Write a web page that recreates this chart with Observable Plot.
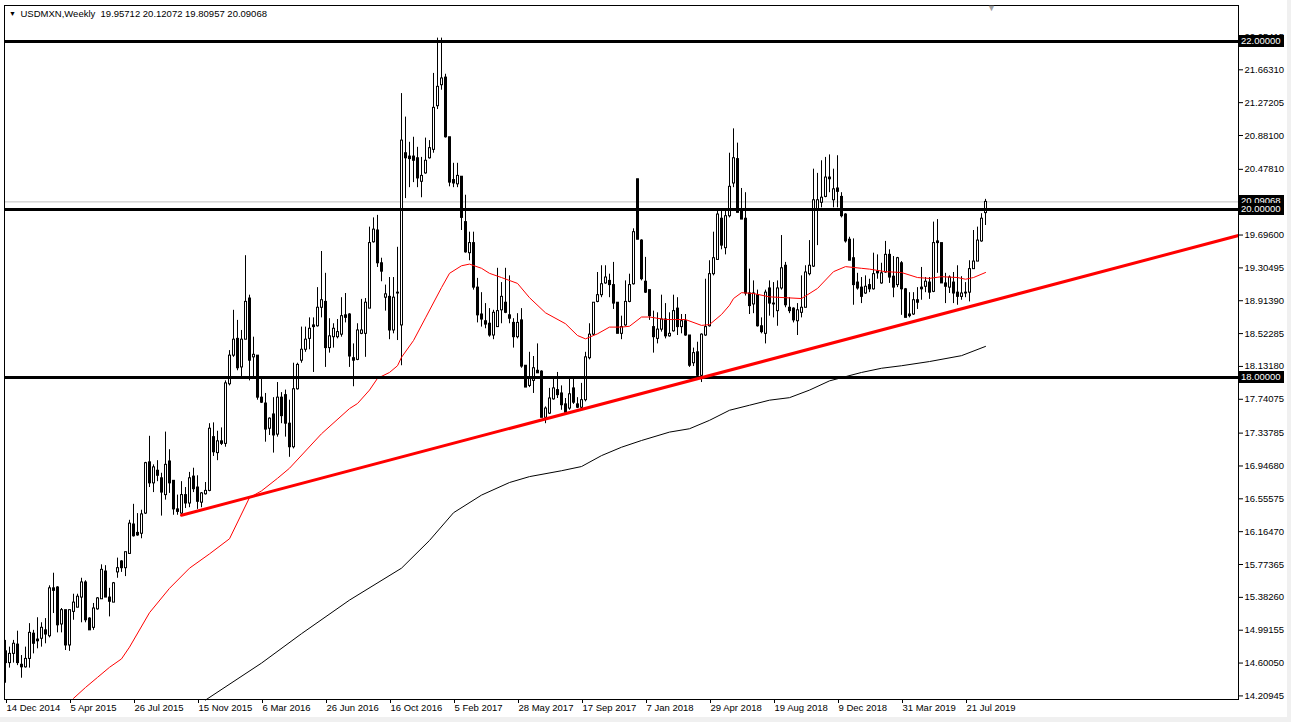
<!DOCTYPE html>
<html><head><meta charset="utf-8">
<script src="https://cdn.jsdelivr.net/npm/d3@7"></script>
<script src="https://cdn.jsdelivr.net/npm/@observablehq/plot@0.6"></script>
<style>
html,body{margin:0;padding:0;background:#f0f0f0;}
#chart{position:absolute;left:0;top:0;}
</style></head><body><div id="chart"></div>
<script>
// ---- data (weekly candles, first week starting 14 Dec 2014) ----
const firstWeek = "2014-12-14";
const symbolHeader = "USDMXN,Weekly  19.95712 20.12072 19.80957 20.09068";

const open = [14.74,14.60,14.71,14.82,14.58,14.55,14.65,14.95,14.86,14.89,14.99,14.92,15.49,15.50,15.06,15.23,14.81,15.21,15.26,15.38,
15.56,15.13,15.02,15.24,15.36,15.69,15.38,15.32,15.68,15.81,15.73,15.90,16.25,16.12,16.14,16.38,16.99,16.74,16.89,16.80,
16.60,17.00,16.77,16.43,16.38,16.60,16.50,16.82,16.69,16.51,16.61,16.65,17.29,17.10,17.24,17.21,17.92,18.26,18.46,18.12,
18.45,18.94,18.24,18.26,17.76,17.69,17.39,17.56,17.32,17.76,17.79,17.45,17.17,17.86,18.20,18.33,18.46,18.60,18.61,18.83,
18.90,18.35,18.48,18.48,18.51,18.71,18.75,18.23,18.21,18.52,18.52,18.82,19.61,19.75,19.36,18.95,18.96,18.56,19.00,18.62,
20.67,20.60,20.63,20.61,20.33,20.43,20.61,20.71,21.23,21.48,21.57,20.86,20.35,20.30,20.39,19.85,19.48,19.60,19.07,18.75,
18.67,18.64,18.50,18.60,18.80,18.89,18.74,18.65,18.48,18.68,18.14,17.90,17.96,18.08,18.07,17.52,17.57,17.74,17.85,17.81,
17.68,17.63,17.87,17.68,17.64,17.73,18.23,18.51,18.90,18.98,19.12,19.15,19.10,18.89,18.52,18.62,18.90,19.11,20.36,19.63,
19.14,19.04,18.60,18.46,18.57,18.69,18.49,18.55,18.82,18.60,18.67,18.50,18.17,18.30,18.02,18.50,18.61,19.23,19.40,19.89,
19.54,19.92,20.31,20.60,19.99,19.89,19.00,18.87,18.98,18.61,18.52,19.06,18.88,18.79,19.06,19.33,18.83,18.82,18.67,18.77,
18.83,19.23,19.32,19.99,20.08,20.15,20.38,20.11,20.25,20.15,19.94,19.64,19.42,19.13,19.07,19.00,19.10,19.05,19.26,19.12,
19.25,19.46,19.20,19.10,19.36,19.05,18.75,18.75,18.92,19.05,19.08,19.13,19.02,19.62,19.60,19.12,19.07,19.13,19.01,18.96,
19.00,19.01,19.29,19.38,19.62,19.95712];

const high = [14.87,14.79,14.87,14.98,14.69,14.79,15.07,14.99,15.14,15.08,15.13,15.52,15.67,15.51,15.25,15.23,15.23,15.42,15.42,15.61,
15.58,15.14,15.31,15.38,15.77,15.76,15.49,15.56,15.85,15.82,15.92,16.30,16.49,16.38,16.42,16.99,17.30,16.96,17.01,16.86,
17.35,17.14,16.77,16.60,16.76,16.69,16.87,16.92,16.83,16.63,16.75,17.45,17.46,17.36,17.40,17.96,18.32,18.80,18.68,18.56,
19.45,18.98,18.48,18.26,17.99,17.81,17.52,17.76,17.94,17.82,17.85,17.73,18.17,18.17,18.60,18.60,18.71,18.71,19.07,19.50,
19.24,18.70,18.64,18.69,18.95,19.00,18.76,18.40,18.64,18.93,18.94,19.79,19.90,19.93,19.42,19.10,19.19,19.19,19.55,21.38,
21.10,20.80,20.86,20.74,20.62,20.85,20.82,21.62,22.04,22.04,21.61,20.86,20.55,20.55,20.39,20.17,19.73,19.73,19.18,19.01,
18.88,18.82,18.80,19.30,19.13,19.30,19.21,18.70,18.76,18.82,18.14,18.30,18.25,18.40,18.08,17.65,17.87,17.98,18.06,17.90,
17.75,17.99,17.99,17.76,17.93,18.30,18.64,18.89,19.25,19.33,19.33,19.23,19.37,18.89,18.73,19.15,19.23,19.77,20.36,19.64,
19.43,19.04,18.79,18.77,18.98,18.88,18.77,18.98,18.95,18.75,18.75,18.50,18.35,18.42,18.52,19.17,19.39,19.73,20.01,20.00,
20.01,20.67,20.96,20.79,20.25,20.20,19.29,19.15,19.04,18.71,19.04,19.15,19.13,19.15,19.69,19.37,18.95,18.83,18.88,19.21,
19.33,19.63,20.48,20.43,20.58,20.62,20.65,20.48,20.64,20.20,19.95,19.67,19.65,19.24,19.19,19.21,19.17,19.48,19.46,19.36,
19.62,19.52,19.44,19.43,19.38,19.06,19.01,19.01,19.07,19.31,19.19,19.19,19.85,19.88,19.60,19.24,19.21,19.25,19.33,19.20,
19.13,19.39,19.75,19.79,19.95,20.12072];

const low = [14.36,14.54,14.60,14.57,14.42,14.54,14.54,14.71,14.77,14.79,14.83,14.90,15.19,14.96,14.96,14.75,14.74,15.11,15.26,15.08,
15.08,14.99,14.99,15.23,15.36,15.38,15.15,15.32,15.61,15.68,15.63,15.90,16.10,16.11,16.08,16.37,16.69,16.63,16.76,16.35,
16.54,16.62,16.36,16.36,16.37,16.44,16.45,16.63,16.43,16.45,16.60,16.64,17.06,17.01,17.19,17.17,17.90,18.24,18.08,18.00,
18.45,17.96,17.99,17.73,17.69,17.23,17.31,17.10,17.29,17.45,17.29,17.05,17.15,17.85,18.17,18.30,18.33,18.06,18.60,18.71,
18.12,18.29,18.35,18.46,18.48,18.65,18.12,17.89,18.20,18.51,18.24,18.82,19.60,19.31,19.14,18.79,18.45,18.52,18.44,18.14,
20.13,20.26,20.32,20.26,20.14,20.42,20.60,20.67,21.19,21.42,20.85,20.27,20.26,20.26,19.75,19.48,19.39,19.04,18.65,18.60,
18.58,18.48,18.45,18.60,18.64,18.76,18.64,18.35,18.46,18.11,17.88,17.88,17.81,18.05,17.52,17.45,17.56,17.73,17.75,17.61,
17.58,17.61,17.68,17.63,17.61,17.71,18.21,18.50,18.89,18.95,19.11,18.95,18.81,18.52,18.45,18.61,18.89,19.10,19.64,19.15,
19.00,18.68,18.29,18.40,18.54,18.46,18.48,18.54,18.50,18.52,18.49,18.12,18.13,18.01,17.94,18.49,18.60,19.21,19.40,19.52,
19.46,19.90,20.26,19.96,19.88,18.97,18.75,18.76,18.60,18.52,18.40,18.73,18.71,18.61,19.04,18.83,18.76,18.65,18.50,18.71,
18.83,19.21,19.31,19.57,20.02,20.14,20.20,20.02,20.02,19.90,19.60,19.39,18.86,19.04,18.88,18.99,19.01,19.04,19.17,19.11,
19.24,19.12,18.95,19.07,18.74,18.71,18.71,18.74,18.81,18.92,19.01,18.93,19.01,19.24,19.12,18.88,19.00,18.88,18.86,18.92,
18.95,18.90,19.29,19.38,19.61,19.80957];

const close = [14.60,14.71,14.83,14.60,14.55,14.65,14.96,14.83,14.88,15.02,14.94,15.49,15.46,15.05,15.23,14.81,15.23,15.32,15.39,15.56,
15.11,14.99,15.25,15.37,15.71,15.38,15.33,15.55,15.73,15.73,15.92,16.26,16.11,16.15,16.37,16.98,16.74,16.93,16.83,16.63,
16.96,16.74,16.43,16.40,16.60,16.50,16.80,16.67,16.52,16.62,16.65,17.39,17.11,17.24,17.21,17.93,18.26,18.45,18.11,18.45,
18.90,18.20,18.27,17.76,17.70,17.38,17.51,17.31,17.76,17.54,17.45,17.17,17.86,18.15,18.33,18.45,18.58,18.62,18.83,18.92,
18.35,18.49,18.58,18.54,18.73,18.74,18.25,18.20,18.56,18.56,18.89,19.60,19.76,19.36,19.26,18.99,18.56,18.95,19.01,20.82,
20.61,20.63,20.58,20.37,20.40,20.58,20.73,21.21,21.46,21.56,20.86,20.32,20.31,20.40,19.90,19.49,19.60,19.07,18.74,18.69,
18.63,18.50,18.77,18.79,18.96,18.77,18.70,18.48,18.65,18.13,17.88,17.99,18.11,18.05,17.52,17.63,17.75,17.87,17.79,17.67,
17.58,17.80,17.70,17.64,17.73,18.24,18.51,18.89,18.98,19.11,19.19,19.10,18.88,18.52,18.60,18.90,19.10,19.73,19.64,19.17,
19.01,18.73,18.48,18.57,18.69,18.49,18.52,18.79,18.60,18.67,18.50,18.14,18.29,18.02,18.51,18.60,19.23,19.42,19.94,19.57,
19.92,20.27,20.61,19.96,19.88,19.00,18.85,19.00,18.61,18.54,19.01,18.88,18.87,19.06,19.30,18.86,18.79,18.68,18.80,18.83,
19.25,19.33,20.11,20.11,20.14,20.38,20.36,20.24,20.21,19.92,19.62,19.39,19.10,19.06,18.96,19.08,19.05,19.23,19.24,19.24,
19.46,19.19,19.07,19.42,19.05,18.71,18.73,18.92,18.89,19.07,19.14,19.01,19.60,19.60,19.12,19.08,19.19,19.00,18.96,19.00,
19.01,19.29,19.38,19.63,19.89,20.09068];

// 50-period moving average (red), read at sample weeks
const ma50Week = [17,20,23,26,29,31,36,41,46,51,56,61,64,68,71,79,86,88,91,93,96,98,99,102,105,109,111,114,116,119,121,124,128,131,135,140,143,145,148,151,154,156,159,161,165,170,174,176,179,181,182,184,187,191,195,199,203,207,210,214,216,220,224,228,231,234,238,240,242,245];
const ma50Value = [14.18,14.31,14.43,14.55,14.65,14.79,15.20,15.49,15.73,15.90,16.08,16.57,16.65,16.80,16.92,17.33,17.63,17.69,17.85,17.99,18.06,18.14,18.24,18.44,18.71,19.07,19.24,19.33,19.35,19.30,19.24,19.19,19.12,18.95,18.77,18.64,18.50,18.46,18.52,18.60,18.60,18.61,18.72,18.72,18.69,18.69,18.62,18.63,18.75,18.86,18.94,19.01,19.00,18.96,18.95,18.94,19.06,19.26,19.32,19.30,19.29,19.26,19.25,19.19,19.18,19.20,19.19,19.17,19.19,19.25];

// 200-period moving average (black), read at sample weeks
const ma200Week = [50,64,74,86,99,106,112,119,126,131,139,144,149,154,159,166,171,176,181,186,191,196,201,206,210,214,219,224,231,239,245];
const ma200Value = [14.16,14.60,14.95,15.35,15.73,16.06,16.39,16.60,16.75,16.82,16.89,16.94,17.07,17.17,17.25,17.35,17.39,17.49,17.61,17.67,17.73,17.76,17.85,17.96,18.01,18.06,18.11,18.14,18.19,18.26,18.37];

// rising support trendline (two anchor weeks, extended to the right edge)
const trendWeek = [44, 309];
const trendValue = [16.36, 19.70];

const levels = [22, 20, 18];
const lastPrice = 20.09068;
const shiftMarkerWeek = 246.5;

const yTicks = [22.05415,21.66310,21.27205,20.88100,20.47810,19.69600,19.30495,18.91390,18.52285,18.13180,17.74075,17.33785,16.94680,16.55575,16.16470,15.77365,15.38260,14.99155,14.60050,14.20945];
const xTickDates = ["2014-12-14","2015-04-05","2015-07-26","2015-11-15","2016-03-06","2016-06-26","2016-10-16","2017-02-05","2017-05-28","2017-09-17","2018-01-07","2018-04-29","2018-08-19","2018-12-09","2019-03-31","2019-07-21"];

// ---- build ----
const t0 = Date.parse(firstWeek);
const WEEK = 7 * 864e5;
const weekDate = w => new Date(t0 + w * WEEK);

const candles = open.map((o, i) => ({
  date: weekDate(i), open: o, high: high[i], low: low[i], close: close[i],
  top: Math.max(o, close[i]), bottom: Math.min(o, close[i])
}));
const bulls = candles.filter(d => d.close > d.open);
const bears = candles.filter(d => d.close <= d.open);
const bullsInner = bulls.filter(d => d.close - d.open > 0.03);

const ma50 = ma50Week.map((w, i) => ({date: weekDate(w), v: ma50Value[i]}));
const ma200 = ma200Week.map((w, i) => ({date: weekDate(w), v: ma200Value[i]}));
const trend = trendWeek.map((w, i) => ({date: weekDate(w), v: trendValue[i]}));

const FONT = "'Liberation Sans', Arial, sans-serif";
const FS = 9.5;

const chart = Plot.plot({
  width: 1287, height: 717,
  marginLeft: 4, marginRight: 49, marginTop: 5, marginBottom: 18,
  style: {background: "#ffffff", color: "#000", fontFamily: FONT, fontSize: FS + "px", overflow: "visible"},
  x: {type: "utc", domain: [weekDate(-0.25), weekDate(308.25)], axis: null},
  y: {domain: [14.16667, 22.42857], axis: null},
  marks: [
    Plot.ruleY([lastPrice], {stroke: "#c0c0c0", strokeWidth: 1}),
    Plot.ruleX(candles, {x: "date", y1: "high", y2: "low", stroke: "#000", strokeWidth: 1}),
    Plot.ruleX(bears, {x: "date", y1: "top", y2: "bottom", stroke: "#000", strokeWidth: 3, insetTop: -0.5, insetBottom: -0.5}),
    Plot.ruleX(bulls, {x: "date", y1: "top", y2: "bottom", stroke: "#000", strokeWidth: 3, insetTop: -0.5, insetBottom: -0.5}),
    Plot.ruleX(bullsInner, {x: "date", y1: "top", y2: "bottom", stroke: "#fff", strokeWidth: 1, insetTop: 0.5, insetBottom: 0.5}),
    Plot.line(ma200, {x: "date", y: "v", stroke: "#000", strokeWidth: 1}),
    Plot.line(ma50, {x: "date", y: "v", stroke: "#ff0000", strokeWidth: 1}),
    Plot.ruleY(levels, {stroke: "#000", strokeWidth: 3}),
    Plot.line(trend, {x: "date", y: "v", stroke: "#ff0000", strokeWidth: 3, clip: true}),
    Plot.frame({stroke: "#000"}),
    Plot.axisY(yTicks, {anchor: "right", tickSize: 4, tickPadding: 2, tickFormat: d => d.toFixed(5), fill: "#000"}),
    Plot.axisX(xTickDates.map(d => new Date(d)), {anchor: "bottom", tickSize: 4, tickPadding: 1, textAnchor: "start", dx: 1,
      tickFormat: d3.utcFormat("%-d %b %Y"), fill: "#000"}),
    Plot.text(["\u25BC"], {x: [weekDate(shiftMarkerWeek)], frameAnchor: "top", dy: 3, fontSize: 9, lineAnchor: "middle", fill: "#a0a0a0"}),
    Plot.text(["\u25BC"], {frameAnchor: "top-left", dx: 8, dy: 8, fontSize: 7, textAnchor: "middle", lineAnchor: "middle", fill: "#000"}),
    Plot.text([symbolHeader], {frameAnchor: "top-left", dx: 16, dy: 8, textAnchor: "start", lineAnchor: "middle", fill: "#000", fontSize: FS})
  ]
});
document.getElementById("chart").appendChild(chart);

// price labels on the right axis, positioned through the chart's scales
const yS = chart.scale("y");
const xRight = chart.scale("x").range[1];
const g = d3.select(chart).append("g").attr("font-family", FONT).attr("font-size", FS).attr("text-anchor", "start");
[[lastPrice, lastPrice.toFixed(5)], ...levels.map(v => [v, v.toFixed(5)])].forEach(([v, label]) => {
  const y = Math.round(yS.apply(v));
  g.append("rect").attr("x", xRight + 1).attr("y", y - 6).attr("width", 45).attr("height", 12).attr("fill", "#000");
  g.append("text").attr("x", xRight + 3).attr("y", y).attr("dy", "0.35em").attr("fill", "#fff").text(label);
});
</script></body></html>
